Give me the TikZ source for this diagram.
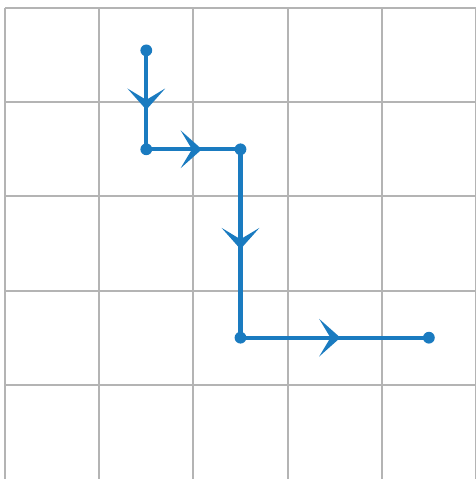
\documentclass[tikz,border=0pt]{standalone}
\usepackage{tikz}
\usetikzlibrary{arrows.meta, decorations.markings}
\definecolor{pathblue}{HTML}{1A7BC0}
\definecolor{gridgray}{HTML}{B4B4B4}
\tikzstyle{gridline} = [draw=gridgray, line width=1.2pt]
\tikzstyle{dot} = [circle, fill=pathblue, inner sep=0pt, minimum size=0.25cm]
\tikzstyle{route} = [draw=pathblue, line width=2.6pt]
\tikzset{midarrow/.style={postaction={decorate},
  decoration={markings, mark=at position #1 with {\arrow{Stealth[length=0.45cm, width=0.8cm, inset=0.24cm]}}}}}

\begin{document}
\begin{tikzpicture}[x=2cm, y=2cm]
    \useasboundingbox (-0.053,0) rectangle (5.0,5.085);
    % grid
    \foreach \i in {0,...,5} {
        \draw [gridline] (\i,0) -- (\i,5);
    }
    \foreach \j in {1,...,5} {
        \draw [gridline] (0,\j) -- (5,\j);
    }
    % route
    \node (start) [dot] at (1.5,4.55) {};
    \node (turnA) [dot] at (1.5,3.5) {};
    \node (turnB) [dot] at (2.5,3.5) {};
    \node (turnC) [dot] at (2.5,1.5) {};
    \node (finish) [dot] at (4.5,1.5) {};

    \draw [route, midarrow=0.6] (start.center) -- (turnA.center);
    \draw [route, midarrow=0.59] (turnA.center) -- (turnB.center);
    \draw [route, midarrow=0.53] (turnB.center) -- (turnC.center);
    \draw [route, midarrow=0.53] (turnC.center) -- (finish.center);
\end{tikzpicture}
\end{document}
